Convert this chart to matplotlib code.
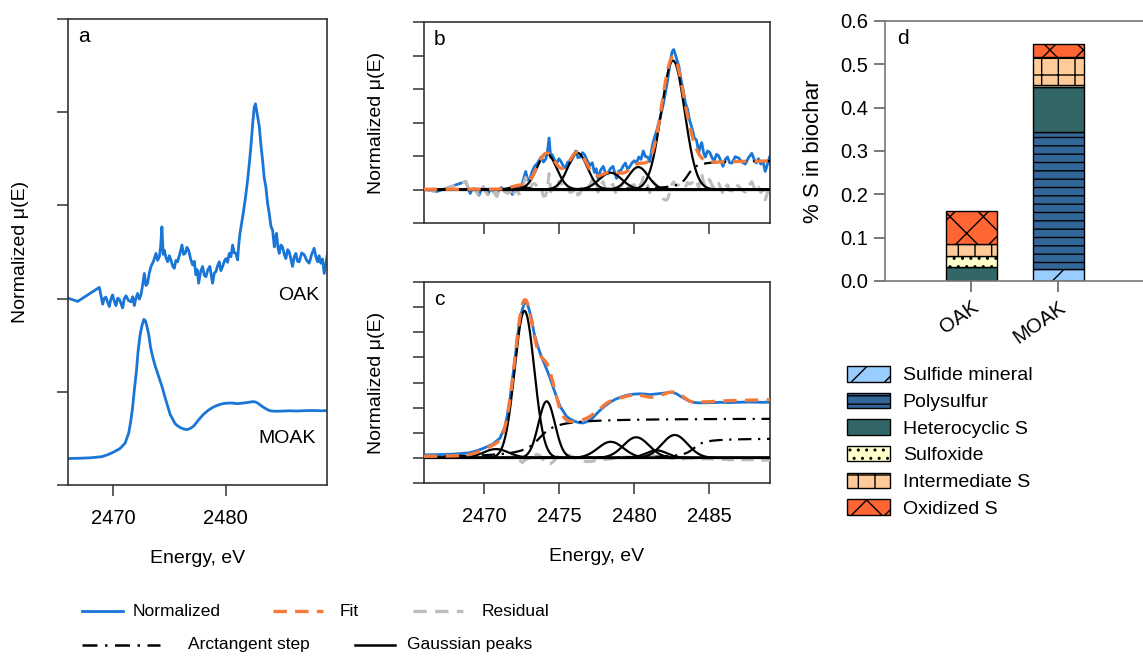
import numpy as np
import matplotlib
matplotlib.use('Agg')
import matplotlib.pyplot as plt
from matplotlib.lines import Line2D

plt.rcParams['font.family'] = ['Liberation Sans', 'DejaVu Sans']
plt.rcParams['font.size'] = 14
plt.rcParams['hatch.linewidth'] = 1.0
plt.rcParams['hatch.color'] = 'black'

BLUE = '#1976D6'
ORANGE = '#F5793A'
GREY = '#BDBDBD'
FRAME = '#333333'
DASH = (0, (4, 2.5))
DASHDOT = (0, (6, 3, 1, 3))

# OAK normalised spectrum (units of panel b)
OAK_E = [2466.0, 2466.86, 2468.78, 2469.08, 2469.22, 2469.37, 2469.52, 2469.67,
         2469.81, 2469.96, 2470.11, 2470.26, 2470.41, 2470.56, 2470.7, 2470.85,
         2471.0, 2471.15, 2471.37, 2471.59, 2471.74, 2471.89, 2472.03, 2472.18,
         2472.33, 2472.48, 2472.63, 2472.78, 2472.92, 2473.07, 2473.22, 2473.37,
         2473.59, 2473.81, 2473.96, 2474.11, 2474.22, 2474.34, 2474.45, 2474.55,
         2474.7, 2474.85, 2475.0, 2475.14, 2475.29, 2475.44, 2475.58, 2475.73,
         2475.92, 2476.12, 2476.26, 2476.41, 2476.56, 2476.71, 2476.89, 2477.07,
         2477.22, 2477.36, 2477.48, 2477.6, 2477.78, 2477.95, 2478.1, 2478.25,
         2478.42, 2478.6, 2478.72, 2478.84, 2478.99, 2479.14, 2479.28, 2479.43,
         2479.58, 2479.73, 2479.88, 2480.02, 2480.17, 2480.32, 2480.47, 2480.62,
         2480.77, 2480.91, 2481.06, 2481.16, 2481.27, 2481.56, 2481.75, 2481.95,
         2482.1, 2482.24, 2482.4, 2482.54, 2482.65, 2482.75, 2482.99, 2483.13,
         2483.28, 2483.42, 2483.57, 2483.72, 2483.87, 2484.02, 2484.17, 2484.32,
         2484.42, 2484.52, 2484.64, 2484.76, 2484.9, 2485.05, 2485.2, 2485.35,
         2485.5, 2485.64, 2485.79, 2485.94, 2486.09, 2486.24, 2486.38, 2486.53,
         2486.75, 2486.98, 2487.2, 2487.42, 2487.64, 2487.86, 2488.01, 2488.16,
         2488.3, 2488.45, 2488.6, 2488.75, 2488.9, 2489.04]
OAK_MU = [0.01, -0.06, 0.24, -0.12, 0.01, 0.03, -0.08, -0.17,
          -0.01, 0.08, -0.06, -0.15, 0.01, -0.02, -0.10, -0.20,
          0.0, 0.06, -0.04, -0.07, 0.04, -0.15, 0.01, 0.11,
          -0.01, 0.08, 0.30, 0.54, 0.28, 0.33, 0.55, 0.69,
          0.80, 0.97, 0.82, 0.90, 1.10, 1.54, 0.95, 1.04,
          0.88, 0.79, 0.92, 0.83, 0.70, 0.65, 0.82, 0.79,
          0.95, 1.15, 0.95, 0.97, 1.10, 1.04, 0.85, 0.72,
          0.80, 0.51, 0.62, 0.33, 0.58, 0.69, 0.50, 0.47,
          0.62, 0.69, 0.50, 0.33, 0.55, 0.58, 0.70, 0.79,
          0.60, 0.69, 0.80, 0.86, 0.78, 0.97, 0.90, 1.15,
          0.98, 0.97, 0.83, 1.15, 1.40, 1.83, 2.15, 2.54,
          2.90, 3.26, 3.75, 4.11, 4.18, 4.04, 3.69, 3.30,
          2.97, 2.60, 2.40, 2.05, 1.83, 1.55, 1.47, 1.11,
          1.30, 1.40, 1.10, 0.97, 1.15, 1.11, 0.95, 0.86,
          1.05, 1.01, 0.85, 0.69, 0.90, 0.97, 0.80, 0.79,
          0.98, 0.94, 0.82, 0.76, 0.95, 1.08, 0.90, 0.79,
          0.92, 0.76, 0.85, 0.54, 0.75, 0.97]

# MOAK normalised spectrum (units of panel c)
MOAK_E = [2466.0, 2467.0, 2468.0, 2469.0, 2469.5, 2470.0, 2470.6, 2471.07,
          2471.4, 2471.56, 2471.73, 2471.89, 2472.07, 2472.22, 2472.4, 2472.56,
          2472.73, 2472.87, 2473.0, 2473.18, 2473.33, 2473.51, 2473.73, 2473.96,
          2474.18, 2474.4, 2474.62, 2474.84, 2475.07, 2475.29, 2475.5, 2475.73,
          2476.07, 2476.35, 2476.62, 2476.9, 2477.18, 2477.45, 2477.73, 2478.05,
          2478.4, 2478.75, 2479.07, 2479.4, 2479.73, 2480.05, 2480.4, 2480.75,
          2481.07, 2481.4, 2481.73, 2482.05, 2482.4, 2482.6, 2482.84, 2483.1,
          2483.4, 2483.7, 2483.96, 2484.3, 2484.62, 2485.2, 2485.73, 2486.3,
          2486.84, 2487.4, 2487.96, 2488.5, 2489.07]
MOAK_MU = [0.12, 0.13, 0.15, 0.20, 0.28, 0.39, 0.55, 0.79,
           1.25, 1.72, 2.32, 3.12, 3.92, 4.79, 5.52, 5.92,
           6.21, 6.16, 5.92, 5.52, 4.99, 4.59, 4.19, 3.85,
           3.52, 3.19, 2.79, 2.43, 2.05, 1.85, 1.65, 1.55,
           1.45, 1.40, 1.39, 1.45, 1.55, 1.72, 1.89, 2.06,
           2.21, 2.33, 2.41, 2.47, 2.52, 2.54, 2.55, 2.54,
           2.52, 2.54, 2.56, 2.58, 2.61, 2.60, 2.55, 2.45,
           2.35, 2.26, 2.21, 2.19, 2.19, 2.20, 2.21, 2.20,
           2.21, 2.22, 2.22, 2.21, 2.22]

# fitted components: centre (eV), height, width (eV)
OAK_PEAK_E = [2472.3, 2474.18, 2476.24, 2478.44, 2480.29, 2482.6]
OAK_PEAK_H = [0.10, 1.07, 1.09, 0.50, 0.67, 3.85]
OAK_PEAK_W = [0.50, 0.65, 0.65, 0.75, 0.65, 0.78]
OAK_STEP_E = [2483.6]
OAK_STEP_H = [0.87]
OAK_STEP_W = [0.40]

MOAK_PEAK_E = [2470.8, 2472.7, 2474.18, 2478.45, 2480.15, 2481.5, 2482.72]
MOAK_PEAK_H = [0.35, 5.85, 2.25, 0.64, 0.82, 0.30, 0.91]
MOAK_PEAK_W = [0.85, 0.65, 0.55, 0.85, 0.85, 0.70, 0.85]
MOAK_STEP_E = [2473.7, 2484.0]
MOAK_STEP_H = [1.58, 0.78]
MOAK_STEP_W = [0.80, 0.50]

# sulfur speciation, % S in biochar
SPECIES = ['Sulfide mineral', 'Polysulfur', 'Heterocyclic S', 'Sulfoxide',
           'Intermediate S', 'Oxidized S']
SAMPLES = ['OAK', 'MOAK']
OAK_S = [0.0, 0.0, 0.033, 0.025, 0.027, 0.077]
MOAK_S = [0.027, 0.316, 0.105, 0.005, 0.063, 0.032]
SPECIES_COLORS = ['#99CCFF', '#336699', '#336666', '#FFFFCC', '#FFCC99', '#FF6633']
SPECIES_HATCH = ['/', '--', '', '..', '+', 'x']


def gauss(e, c, h, w):
    return h * np.exp(-(e - c) ** 2 / (2 * w ** 2))


def atan_step(e, c, h, w):
    return h * (0.5 + np.arctan((e - c) / w) / np.pi)


def total_fit(e, peaks, steps):
    out = np.zeros_like(e, dtype=float)
    for c, h, w in zip(*peaks):
        out += gauss(e, c, h, w)
    for c, h, w in zip(*steps):
        out += atan_step(e, c, h, w)
    return out


def style_frame(ax, color=FRAME):
    for s in ax.spines.values():
        s.set_color(color)
        s.set_linewidth(1.2)
    ax.tick_params(direction='out', length=8, width=1.1, color=color, pad=9,
                   labelsize=14.5)


def draw_fit_panel(ax, e_data, mu_data, peaks, steps):
    e = np.linspace(2466, 2489.5, 800)
    e_data = np.asarray(e_data)
    resid = np.asarray(mu_data) - total_fit(e_data, peaks, steps)
    ax.plot(e_data, mu_data, color=BLUE, lw=2.0, zorder=2)
    ax.plot(e_data, resid, color=GREY, lw=2.2, ls=DASH, zorder=3)
    ax.axhline(0, color='black', lw=1.6, zorder=4)
    for c, h, w in zip(*peaks):
        ax.plot(e, gauss(e, c, h, w), color='black', lw=1.6, zorder=5)
    for c, h, w in zip(*steps):
        ax.plot(e, atan_step(e, c, h, w), color='black', lw=1.6, ls=DASHDOT, zorder=5)
    ax.plot(e, total_fit(e, peaks, steps), color=ORANGE, lw=2.4, ls=DASH, zorder=6)


W, H = 1143, 656
fig = plt.figure(figsize=(W / 100, H / 100), dpi=100)


def px_axes(left, top, right, bottom):
    return fig.add_axes([left / W, 1 - bottom / H, (right - left) / W, (bottom - top) / H])


# panel a
ax_a = px_axes(68, 19, 327, 485)
ax_a.plot(OAK_E, np.asarray(OAK_MU) * 0.5 + 2.0, color=BLUE, lw=2.0)
ax_a.plot(MOAK_E, np.asarray(MOAK_MU) * 0.245 + 0.255, color=BLUE, lw=2.0)
ax_a.set_xlim(2466, 2489)
ax_a.set_ylim(0, 5)
ax_a.set_xticks([2470, 2480])
ax_a.set_yticks(range(6))
style_frame(ax_a)
ax_a.tick_params(labelleft=False)
ax_a.set_xlabel('Energy, eV', labelpad=16)
ax_a.set_ylabel('Normalized \u03bc(E)', labelpad=20)
ax_a.text(2488.3, 2.03, 'OAK', ha='right', va='center')
ax_a.text(2488.0, 0.5, 'MOAK', ha='right', va='center')

# panel b
ax_b = px_axes(424, 22, 770, 223)
draw_fit_panel(ax_b, OAK_E, OAK_MU,
               (OAK_PEAK_E, OAK_PEAK_H, OAK_PEAK_W),
               (OAK_STEP_E, OAK_STEP_H, OAK_STEP_W))
ax_b.set_xlim(2466, 2489.07)
ax_b.set_ylim(-1, 5)
ax_b.set_xticks([2470, 2475, 2480, 2485])
ax_b.set_yticks(range(-1, 6))
style_frame(ax_b)
ax_b.tick_params(labelleft=False, labelbottom=False)
ax_b.set_ylabel('Normalized \u03bc(E)', labelpad=20)

# panel c
ax_c = px_axes(424, 282, 770, 483)
draw_fit_panel(ax_c, MOAK_E, MOAK_MU,
               (MOAK_PEAK_E, MOAK_PEAK_H, MOAK_PEAK_W),
               (MOAK_STEP_E, MOAK_STEP_H, MOAK_STEP_W))
ax_c.set_xlim(2466, 2489.07)
ax_c.set_ylim(-1, 7)
ax_c.set_xticks([2470, 2475, 2480, 2485])
ax_c.set_yticks(range(-1, 8))
style_frame(ax_c)
ax_c.tick_params(labelleft=False)
ax_c.set_xlabel('Energy, eV', labelpad=16)
ax_c.set_ylabel('Normalized \u03bc(E)', labelpad=20)

for ax, lab in [(ax_a, 'a'), (ax_b, 'b'), (ax_c, 'c')]:
    ax.annotate(lab, xy=(0, 1), xycoords='axes fraction', xytext=(10, -8),
                textcoords='offset pixels', ha='left', va='top', fontsize=15)

# panel d
ax_d = px_axes(885, 21, 1143, 281)
x = np.arange(len(SAMPLES))
bottoms = np.zeros(len(SAMPLES))
handles = []
for i, name in enumerate(SPECIES):
    vals = np.array([OAK_S[i], MOAK_S[i]])
    bars = ax_d.bar(x, vals, bottom=bottoms, width=0.586, color=SPECIES_COLORS[i],
                    edgecolor='black', linewidth=1.0, hatch=SPECIES_HATCH[i], label=name)
    handles.append(bars)
    bottoms += vals
ax_d.set_xlim(-0.989, 1.977)
ax_d.set_ylim(0, 0.6)
ax_d.set_yticks(np.arange(0, 0.61, 0.1))
ax_d.set_yticklabels(['%.1f' % v for v in np.arange(0, 0.61, 0.1)])
ax_d.set_xticks(x)
ax_d.set_xticklabels(SAMPLES, rotation=35, ha='right', rotation_mode='anchor')
for s in ax_d.spines.values():
    s.set_color('#777777')
    s.set_linewidth(1.2)
ax_d.spines['right'].set_visible(False)
ax_d.tick_params(direction='out', length=8, width=1.1, color='#555555', pad=4,
                 labelsize=14.5)
ax_d.set_ylabel('% S in biochar', fontsize=16, labelpad=12)
ax_d.annotate('d', xy=(0, 1), xycoords='axes fraction', xytext=(12, -8),
              textcoords='offset pixels', ha='left', va='top', fontsize=15)

fig.legend(handles, SPECIES, loc='upper left', bbox_to_anchor=(847 / W, 1 - 366 / H),
           frameon=False, fontsize=14, handlelength=2.2, handleheight=0.85,
           handletextpad=0.67, labelspacing=0.42, borderpad=0, borderaxespad=0)

# bottom legend for the spectra
lax = fig.add_axes([0, 0, 1, 1])
lax.set_xlim(0, W)
lax.set_ylim(H, 0)
lax.axis('off')
leg_items = [
    (82, 123, 611, dict(color=BLUE, lw=2.0), 133, 'Normalized'),
    (273, 323, 611, dict(color=ORANGE, lw=2.4, ls=DASH), 340, 'Fit'),
    (413, 463, 611, dict(color=GREY, lw=2.4, ls=DASH), 482, 'Residual'),
    (82, 160, 645, dict(color='black', lw=1.8, ls=DASHDOT), 188, 'Arctangent step'),
    (355, 395, 645, dict(color='black', lw=1.8), 407, 'Gaussian peaks'),
]
for x0, x1, yy, kw, tx, label in leg_items:
    lax.add_line(Line2D([x0, x1], [yy, yy], **kw))
    lax.text(tx, yy, label, ha='left', va='center', fontsize=12.5)

fig.savefig('out.png', dpi=100)
